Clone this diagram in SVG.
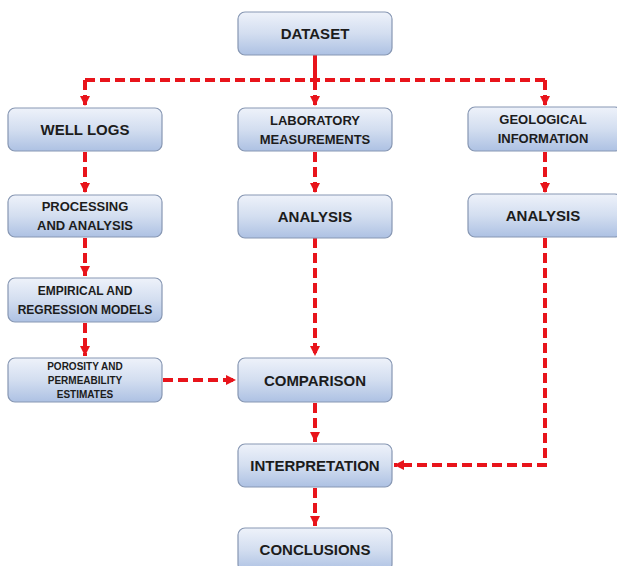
<svg xmlns="http://www.w3.org/2000/svg" width="617" height="566" viewBox="0 0 617 566">
<defs>
<linearGradient id="g" x1="0" y1="0" x2="0" y2="1">
<stop offset="0" stop-color="#eef2fa"/>
<stop offset="0.5" stop-color="#d3def0"/>
<stop offset="1" stop-color="#adc1e3"/>
</linearGradient>
<marker id="ah" markerUnits="userSpaceOnUse" markerWidth="12" markerHeight="10" refX="10" refY="5" orient="auto">
<path d="M0,0 L10,5 L0,10 Z" fill="#e8141b"/>
</marker>
<style>
.box{fill:url(#g);stroke:#8797b3;stroke-width:1.2}
.t{font-family:"Liberation Sans",Arial,sans-serif;font-weight:bold;fill:#1c1c1c;text-anchor:middle}
.c{fill:none;stroke:#e8141b;stroke-width:4;stroke-dasharray:10 5}
</style>
</defs>
<rect width="617" height="566" fill="#fff"/>
<g id="connectors">
<path d="M315,55 V80" fill="none" stroke="#e8141b" stroke-width="4"/>
<path class="c" d="M85,80 H545"/>
<path class="c" d="M85,80 V106" marker-end="url(#ah)"/>
<path class="c" d="M315,80 V106" marker-end="url(#ah)"/>
<path class="c" d="M545,80 V106" marker-end="url(#ah)"/>
<path class="c" d="M85,152 V193" marker-end="url(#ah)"/>
<path class="c" d="M85,238 V276" marker-end="url(#ah)"/>
<path class="c" d="M85,323 V356" marker-end="url(#ah)"/>
<path class="c" d="M315,152 V193" marker-end="url(#ah)"/>
<path class="c" d="M545,152 V193" marker-end="url(#ah)"/>
<path class="c" d="M315,238 V356" marker-end="url(#ah)"/>
<path class="c" d="M163,380 H236" marker-end="url(#ah)"/>
<path class="c" d="M315,403 V442" marker-end="url(#ah)"/>
<path class="c" d="M545,238 V465 H394" marker-end="url(#ah)"/>
<path class="c" d="M315,488 V526" marker-end="url(#ah)"/>
</g>
<g id="dataset"><rect class="box" x="238" y="12" width="154" height="43" rx="7"/><text class="t" x="315" y="39" font-size="15">DATASET</text></g>
<g id="welllogs"><rect class="box" x="8" y="108" width="154" height="43" rx="7"/><text class="t" x="85" y="135" font-size="15">WELL LOGS</text></g>
<g id="lab"><rect class="box" x="238" y="108" width="154" height="43" rx="7"/><text class="t" x="315" y="125" font-size="13">LABORATORY</text><text class="t" x="315" y="144" font-size="13">MEASUREMENTS</text></g>
<g id="geo"><rect class="box" x="468" y="107" width="154" height="44" rx="7"/><text class="t" x="543" y="124" font-size="13">GEOLOGICAL</text><text class="t" x="543" y="143" font-size="13">INFORMATION</text></g>
<g id="processing"><rect class="box" x="8" y="195" width="154" height="42" rx="7"/><text class="t" x="85" y="211" font-size="13">PROCESSING</text><text class="t" x="85" y="230" font-size="13">AND ANALYSIS</text></g>
<g id="analysis1"><rect class="box" x="238" y="195" width="154" height="43" rx="7"/><text class="t" x="315" y="222" font-size="15">ANALYSIS</text></g>
<g id="analysis2"><rect class="box" x="468" y="194" width="154" height="43" rx="7"/><text class="t" x="543" y="221" font-size="15">ANALYSIS</text></g>
<g id="empirical"><rect class="box" x="8" y="278" width="154" height="44" rx="7"/><text class="t" x="85" y="295" font-size="12">EMPIRICAL AND</text><text class="t" x="85" y="314" font-size="12">REGRESSION MODELS</text></g>
<g id="porosity"><rect class="box" x="8" y="358" width="154" height="44" rx="7"/><text class="t" x="85" y="370" font-size="10">POROSITY AND</text><text class="t" x="85" y="384" font-size="10">PERMEABILITY</text><text class="t" x="85" y="398" font-size="10">ESTIMATES</text></g>
<g id="comparison"><rect class="box" x="238" y="358" width="154" height="44" rx="7"/><text class="t" x="315" y="386" font-size="15">COMPARISON</text></g>
<g id="interpretation"><rect class="box" x="238" y="444" width="154" height="43" rx="7"/><text class="t" x="315" y="471" font-size="15">INTERPRETATION</text></g>
<g id="conclusions"><rect class="box" x="238" y="528" width="154" height="43" rx="7"/><text class="t" x="315" y="555" font-size="15">CONCLUSIONS</text></g>
</svg>
